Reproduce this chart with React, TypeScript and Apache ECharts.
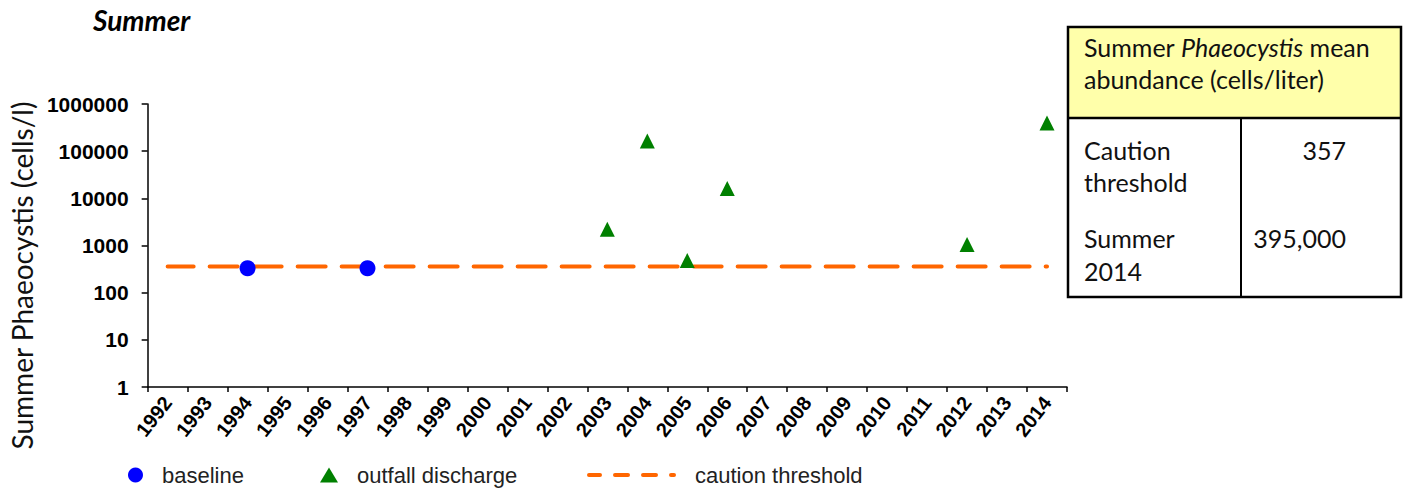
import React, { useEffect, useRef } from 'react';
import * as echarts from 'echarts';

const years = ['1992', '1993', '1994', '1995', '1996', '1997', '1998', '1999', '2000', '2001', '2002', '2003', '2004', '2005', '2006', '2007', '2008', '2009', '2010', '2011', '2012', '2013', '2014'];
const baselineYears = ['1994', '1997'];
const baselineValues = [330, 330];
const outfallYears = ['2003', '2004', '2005', '2006', '2012', '2014'];
const outfallValues = [2200, 164000, 480, 16100, 1050, 395000];
const cautionThreshold = 357;
const titleText = 'Summer';
const yAxisName = 'Summer Phaeocystis (cells/l)';
const tableRowLabels = [['Caution', 'threshold'], ['Summer', '2014']];
const tableRowValues = ['357', '395,000'];

const CAL = 'Lato, "Open Sans", sans-serif';
const ARIAL = '"Liberation Sans", Arial, sans-serif';

export default function App() {
  const ref = useRef<HTMLDivElement>(null);
  useEffect(() => {
    document.body.style.margin = '0';
    if (!ref.current) return;
    const chart = echarts.init(ref.current, undefined, { renderer: 'svg' });
    const tableText = (text: string, x: number, y: number, align = 'left') => ({
      type: 'text',
      x,
      y,
      style: { text, font: `25px ${CAL}`, fill: '#111', align, verticalAlign: 'middle' },
    });
    const graphic: any[] = [
      {
        type: 'text',
        x: 93,
        y: 20,
        style: { text: titleText, font: `italic bold 28px ${CAL}`, fill: '#000', align: 'left', verticalAlign: 'middle' },
      },
      { type: 'rect', shape: { x: 1068, y: 27, width: 333, height: 91 }, style: { fill: '#FFFFAA', stroke: null } },
      { type: 'rect', shape: { x: 1068, y: 27, width: 333, height: 270 }, style: { fill: 'none', stroke: '#000', lineWidth: 2.5 } },
      { type: 'line', shape: { x1: 1068, y1: 118, x2: 1401, y2: 118 }, style: { stroke: '#000', lineWidth: 2.5 } },
      { type: 'line', shape: { x1: 1241, y1: 118, x2: 1241, y2: 297 }, style: { stroke: '#000', lineWidth: 2 } },
      {
        type: 'text',
        x: 1084,
        y: 47,
        style: {
          text: '{n|Summer }{i|Phaeocystis}{n| mean}',
          rich: {
            n: { font: `25px ${CAL}`, fill: '#111' },
            i: { font: `italic 25px ${CAL}`, fill: '#111' },
          },
          align: 'left',
          verticalAlign: 'middle',
        },
      },
      tableText('abundance (cells/liter)', 1084, 79),
      tableText(tableRowLabels[0][0], 1084, 150),
      tableText(tableRowLabels[0][1], 1084, 182),
      tableText(tableRowLabels[1][0], 1084, 238),
      tableText(tableRowLabels[1][1], 1084, 271),
      tableText(tableRowValues[0], 1346, 150, 'right'),
      tableText(tableRowValues[1], 1346, 238, 'right'),
    ];

    const legendBase = {
      top: 464,
      padding: 0,
      textStyle: { fontFamily: ARIAL, fontSize: 22, color: '#222' },
      selectedMode: false,
    };

    chart.setOption({
      animation: false,
      grid: { left: 147, top: 104, width: 920, height: 283, containLabel: false },
      legend: [
        { ...legendBase, left: 128, itemWidth: 15, itemHeight: 15, data: ['baseline'], textStyle: { ...legendBase.textStyle, padding: [0, 0, 0, 14] } },
        { ...legendBase, left: 320, itemWidth: 18, itemHeight: 15, data: ['outfall discharge'], textStyle: { ...legendBase.textStyle, padding: [0, 0, 0, 14] } },
        {
          ...legendBase,
          left: 587,
          itemWidth: 85,
          itemHeight: 15,
          data: ['caution threshold'],
          itemStyle: { opacity: 0 },
          lineStyle: { type: [13, 15], width: 4, cap: 'round' },
          textStyle: { ...legendBase.textStyle, padding: [0, 0, 0, 16] },
        },
      ],
      xAxis: {
        type: 'category',
        data: years,
        boundaryGap: true,
        axisLine: { lineStyle: { color: '#000', width: 1.5 } },
        axisTick: { show: true, alignWithLabel: false, length: 5, lineStyle: { color: '#000', width: 1.5 }, interval: 0 },
        axisLabel: { interval: 0, rotate: 52, margin: 12, fontFamily: ARIAL, fontWeight: 'bold', fontSize: 20, color: '#000' },
        splitLine: { show: false },
      },
      yAxis: {
        type: 'log',
        logBase: 10,
        min: 1,
        max: 1000000,
        name: yAxisName,
        nameLocation: 'middle',
        nameRotate: 90,
        nameGap: 110,
        nameTextStyle: { fontFamily: CAL, fontSize: 28, color: '#111', padding: [0, 60, 0, 0] },
        axisLine: { show: true, lineStyle: { color: '#000', width: 1.5 } },
        axisTick: { show: true, length: 6, lineStyle: { color: '#000', width: 1.5 } },
        axisLabel: {
          margin: 19,
          fontFamily: ARIAL,
          fontWeight: 'bold',
          fontSize: 21,
          color: '#000',
          formatter: (v: number) => String(Math.round(v)),
        },
        splitLine: { show: false },
        minorTick: { show: false },
      },
      series: [
        {
          name: 'baseline',
          type: 'scatter',
          symbol: 'circle',
          symbolSize: 16,
          itemStyle: { color: '#0000FF', opacity: 1 },
          data: baselineYears.map((y, i) => [y, baselineValues[i]]),
          z: 3,
        },
        {
          name: 'outfall discharge',
          type: 'scatter',
          symbol: 'triangle',
          symbolSize: [15, 15],
          itemStyle: { color: '#008000', opacity: 1 },
          data: outfallYears.map((y, i) => [y, outfallValues[i]]),
          z: 4,
        },
        {
          name: 'caution threshold',
          type: 'line',
          symbol: 'none',
          showSymbol: false,
          lineStyle: { color: '#FF6600', width: 4, type: [28, 16], dashOffset: 2, cap: 'round' },
          itemStyle: { color: '#FF6600' },
          data: years.map(() => cautionThreshold),
          z: 2,
        },
      ],
      graphic,
    });
    return () => chart.dispose();
  }, []);
  return <div ref={ref} style={{ width: 1408, height: 493 }} />;
}
